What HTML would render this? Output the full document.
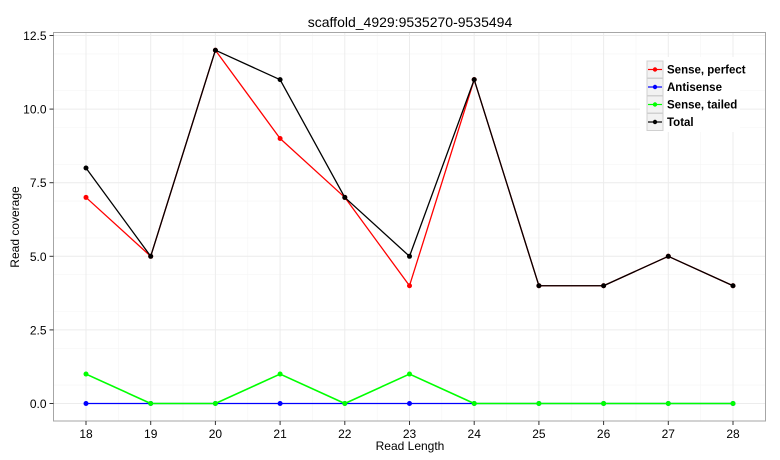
<!DOCTYPE html>
<html><head><meta charset="utf-8"><style>
body{margin:0;background:#fff;}
svg{display:block;font-family:"Liberation Sans",Arial,sans-serif;}
</style></head><body>
<svg id="s" width="780" height="460" xmlns="http://www.w3.org/2000/svg">
<rect width="780" height="460" fill="#fff"/>
<g id="grid"></g>
<rect x="53.5" y="32.5" width="712" height="388.5" fill="none" stroke="#a6a6a6" stroke-width="1"/>
<g id="series"></g>
<g id="axes" font-size="12" fill="#000"></g>
<text x="410" y="27" font-size="14" text-anchor="middle">scaffold_4929:9535270-9535494</text>
<text x="410" y="450" font-size="12" text-anchor="middle">Read Length</text>
<text x="19" y="227" font-size="12" text-anchor="middle" transform="rotate(-90 19 227)">Read coverage</text>
<g id="legend" font-size="11.5" font-weight="bold"></g>
</svg>
<script>
const NS="http://www.w3.org/2000/svg";
function el(p,t,a,txt){const e=document.createElementNS(NS,t);for(const k in a)e.setAttribute(k,a[k]);if(txt!==undefined)e.textContent=txt;document.getElementById(p).appendChild(e);return e;}
const X=v=>86+(v-18)*64.7, Y=v=>403.5-v*29.44;
const L=53.5,R=765.5,T=32.5,B=421;
for(let v=0.625;v<12.6;v+=1.25) el("grid","line",{x1:L,x2:R,y1:Y(v),y2:Y(v),stroke:"#f5f5f5","stroke-width":0.6});
for(let v=17.5;v<=28.5;v+=1) el("grid","line",{x1:X(v),x2:X(v),y1:T,y2:B,stroke:"#f5f5f5","stroke-width":0.6});
for(let v=0;v<=12.5;v+=2.5){el("grid","line",{x1:L,x2:R,y1:Y(v),y2:Y(v),stroke:"#ececec","stroke-width":1});
 el("axes","line",{x1:L-4,x2:L,y1:Y(v),y2:Y(v),stroke:"#333"});
 el("axes","text",{x:L-7,y:Y(v)+4.5,"text-anchor":"end"},v.toFixed(1));}
for(let v=18;v<=28;v++){el("grid","line",{x1:X(v),x2:X(v),y1:T,y2:B,stroke:"#ececec","stroke-width":1});
 el("axes","line",{x1:X(v),x2:X(v),y1:B,y2:B+4,stroke:"#333"});
 el("axes","text",{x:X(v),y:B+17,"text-anchor":"middle"},v);}
const data=[["#ff0000",[7,5,12,9,7,4,11,4,4,5,4]],["#0000ff",[0,0,0,0,0,0,0,0,0,0,0]],["#00ff00",[1,0,0,1,0,1,0,0,0,0,0]],["#000000",[8,5,12,11,7,5,11,4,4,5,4]]];
for(const [c,d] of data){el("series","polyline",{points:d.map((v,i)=>X(18+i)+","+Y(v)).join(" "),fill:"none",stroke:c,"stroke-width":c=="#00ff00"?1.6:1.3,"stroke-linejoin":"round"});
 d.forEach((v,i)=>el("series","circle",{cx:X(18+i),cy:Y(v),r:2.5,fill:c}));}
const names=["Sense, perfect","Antisense","Sense, tailed","Total"];
el("legend","rect",{x:640,y:57,width:100,height:75,fill:"#fff"});
names.forEach((n,i)=>{const y=61+i*17.5;
 el("legend","rect",{x:647,y:y,width:16,height:17,fill:"#f2f2f2",stroke:"#d0d0d0","stroke-width":1});
 el("legend","line",{x1:648,x2:662,y1:y+8.5,y2:y+8.5,stroke:data[i][0],"stroke-width":1.2});
 el("legend","circle",{cx:655,cy:y+8.5,r:2.2,fill:data[i][0]});
 el("legend","text",{x:667,y:y+12.5},n);});
</script>
</body></html>
